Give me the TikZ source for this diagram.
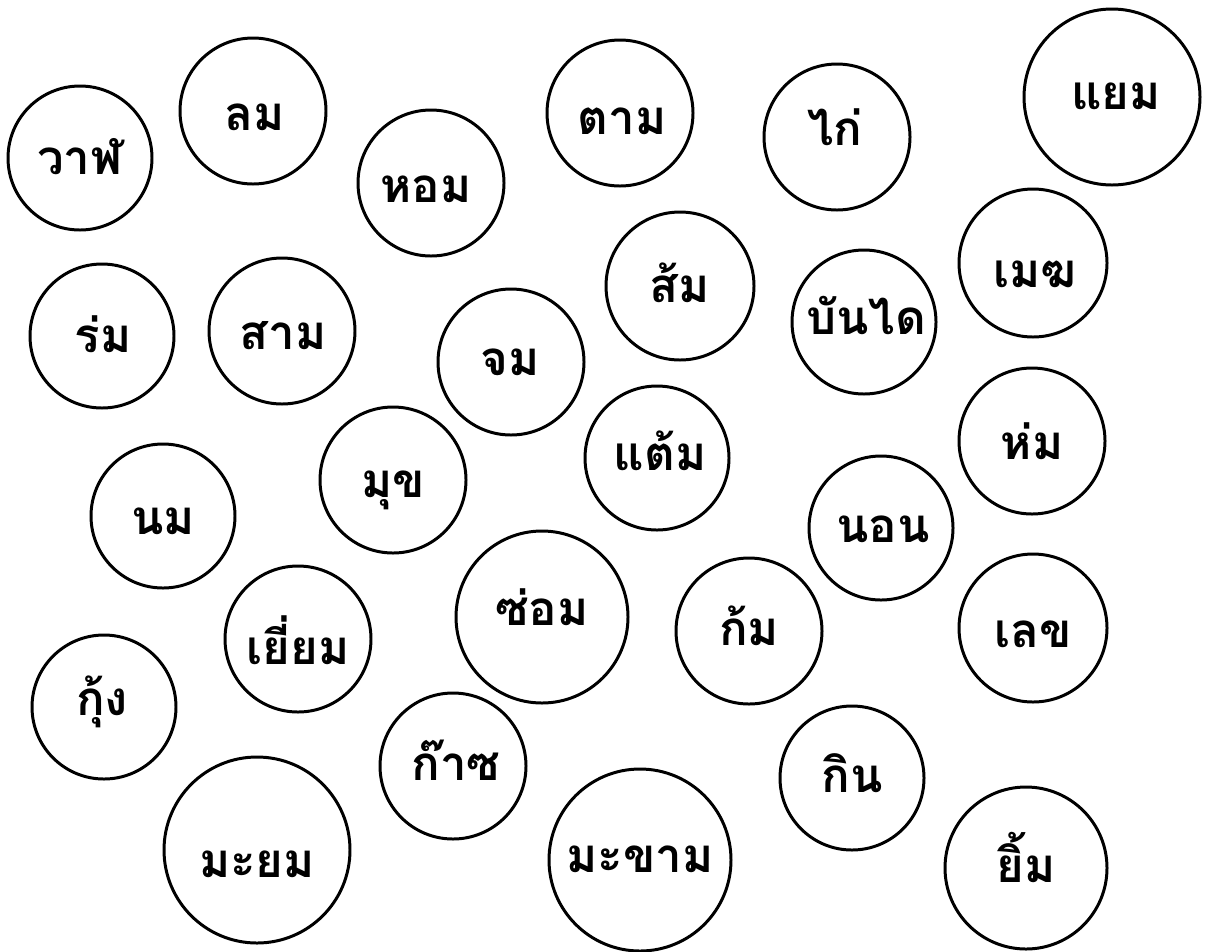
\documentclass[tikz,border=0pt]{standalone}
\usepackage{fontspec}
\newfontfamily\thaifont[Script=Thai]{Loma}
\usetikzlibrary{positioning}

\begin{document}
\begin{tikzpicture}[x=0.02cm,y=-0.02cm,
  ball/.style={draw=black,line width=1.7pt,circle,inner sep=0pt,minimum size=2*#1*0.02cm},
  word/.style={font=\thaifont\bfseries\fontsize{27}{30}\selectfont,inner sep=0pt,anchor=base}]
\useasboundingbox (0,0) rectangle (1213,951);
% top row
\node[ball=72] (whale) at (80,158) {};
\node[word] (whale-t) at (80,174) {วาฬ};
\node[ball=73] (wind) at (253,111) {};
\node[word] (wind-t) at (255,130) {ลม};
\node[ball=73] (scent) at (431,183) {};
\node[word] (scent-t) at (426,202) {หอม};
\node[ball=73] (follow) at (620,113) {};
\node[word] (follow-t) at (622,134) {ตาม};
\node[ball=73] (chicken) at (837,137) {};
\node[word] (chicken-t) at (835,145) {ไก่};
\node[ball=88] (jam) at (1112,97) {};
\node[word] (jam-t) at (1116,109) {แยม};
% second row
\node[ball=72] (umbrella) at (102,336) {};
\node[word] (umbrella-t) at (103,352) {ร่ม};
\node[ball=73] (three) at (282,331) {};
\node[word] (three-t) at (283,349) {สาม};
\node[ball=73] (sink) at (511,362) {};
\node[word] (sink-t) at (510,375) {จม};
\node[ball=74] (orange) at (680,286) {};
\node[word] (orange-t) at (680,302) {ส้ม};
\node[ball=72] (stairs) at (864,322) {};
\node[word] (stairs-t) at (866,334) {บันได};
\node[ball=74] (cloud) at (1033,263) {};
\node[word] (cloud-t) at (1035,287) {เมฆ};
% middle
\node[ball=72] (milk) at (163,516) {};
\node[word] (milk-t) at (163,534) {นม};
\node[ball=73] (joke) at (393,480) {};
\node[word] (joke-t) at (393,497) {มุข};
\node[ball=72] (score) at (657,458) {};
\node[word] (score-t) at (660,470) {แต้ม};
\node[ball=72] (sleep) at (881,528) {};
\node[word] (sleep-t) at (883,542) {นอน};
\node[ball=73] (cover) at (1032,441) {};
\node[word] (cover-t) at (1032,459) {ห่ม};
% fourth row
\node[ball=72] (shrimp) at (104,707) {};
\node[word] (shrimp-t) at (102,715) {กุ้ง};
\node[ball=73] (visit) at (298,639) {};
\node[word] (visit-t) at (298,664) {เยี่ยม};
\node[ball=86] (repair) at (542,617) {};
\node[word] (repair-t) at (542,625) {ซ่อม};
\node[ball=73] (bow) at (749,631) {};
\node[word] (bow-t) at (749,645) {ก้ม};
\node[ball=74] (number) at (1033,628) {};
\node[word] (number-t) at (1033,647) {เลข};
% bottom row
\node[ball=93] (gooseberry) at (257,850) {};
\node[word] (gooseberry-t) at (257,877) {มะยม};
\node[ball=73] (gas) at (453,766) {};
\node[word] (gas-t) at (456,780) {ก๊าซ};
\node[ball=91] (tamarind) at (640,860) {};
\node[word] (tamarind-t) at (640,872) {มะขาม};
\node[ball=72] (eat) at (852,778) {};
\node[word] (eat-t) at (852,792) {กิน};
\node[ball=81] (smile) at (1026,868) {};
\node[word] (smile-t) at (1026,882) {ยิ้ม};
\end{tikzpicture}
\end{document}
